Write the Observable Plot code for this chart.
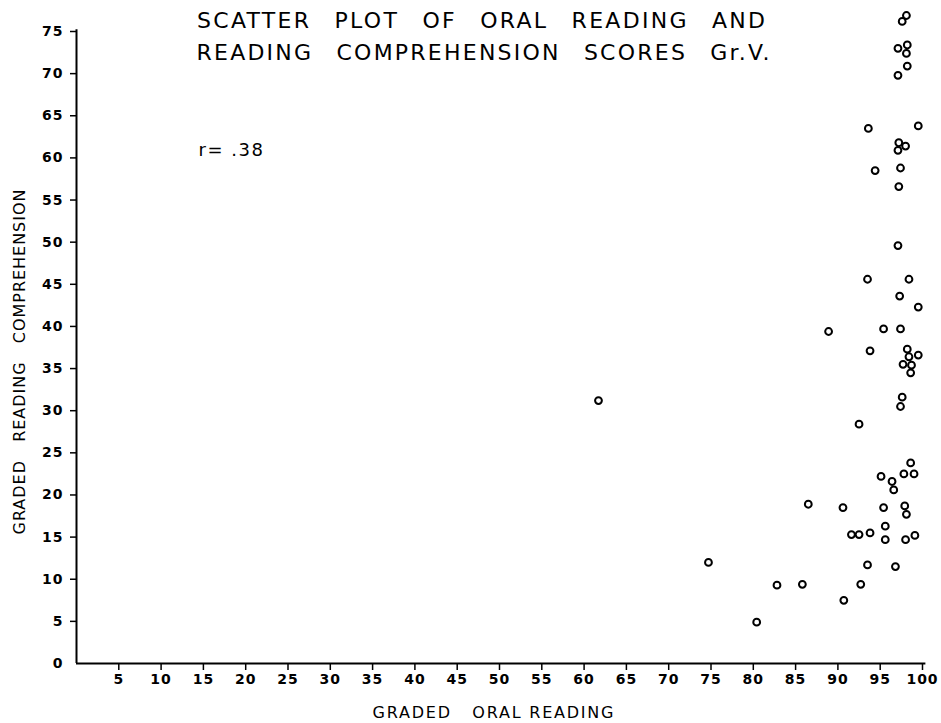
<!DOCTYPE html>
<html>
<head>
<meta charset="utf-8">
<script src="https://cdn.jsdelivr.net/npm/d3@7"></script>
<script src="https://cdn.jsdelivr.net/npm/@observablehq/plot@0.6"></script>
<style>
  html, body { margin: 0; padding: 0; background: #fff; }
  #chart { width: 941px; height: 723px; }
</style>
</head>
<body>
<div id="chart"></div>
<script>
// Graded oral reading (x) and graded reading comprehension (y)
const oralReading = [98.1, 97.6, 97.1, 98.2, 98.1, 98.2, 97.1, 93.6, 99.5, 97.2,
  98.0, 97.1, 94.4, 97.4, 97.2, 97.1, 93.5, 98.4, 97.3, 99.5,
  95.4, 97.4, 93.8, 98.2, 98.4, 99.5, 97.7, 98.7, 98.6, 97.6,
  97.4, 92.5, 98.6, 97.8, 99.0, 95.1, 96.4, 96.6, 90.6, 95.4,
  97.9, 98.1, 95.6, 91.6, 92.5, 93.8, 95.6, 98.0, 99.1, 93.5,
  96.8, 92.7, 90.7, 86.5, 74.7, 82.8, 85.8, 61.7, 80.4, 88.9];
const comprehension = [76.9, 76.2, 73.0, 73.4, 72.4, 70.9, 69.8, 63.5, 63.8, 61.8,
  61.4, 60.9, 58.5, 58.8, 56.6, 49.6, 45.6, 45.6, 43.6, 42.3,
  39.7, 39.7, 37.1, 37.3, 36.4, 36.6, 35.5, 35.4, 34.5, 31.6,
  30.5, 28.4, 23.8, 22.5, 22.5, 22.2, 21.6, 20.6, 18.5, 18.5,
  18.7, 17.7, 16.3, 15.3, 15.3, 15.5, 14.7, 14.7, 15.2, 11.7,
  11.5, 9.4, 7.5, 18.9, 12.0, 9.3, 9.4, 31.2, 4.9, 39.4];
const xTicks = [5, 10, 15, 20, 25, 30, 35, 40, 45, 50, 55, 60, 65, 70, 75, 80, 85, 90, 95, 100];
const yTicks = [5, 10, 15, 20, 25, 30, 35, 40, 45, 50, 55, 60, 65, 70, 75];
const yZeroTick = [0];
const titleLines = ["SCATTER PLOT OF ORAL READING AND", "READING COMPREHENSION SCORES Gr.V."];
const xLabel = "GRADED   ORAL READING";
const yLabel = "GRADED   READING   COMPREHENSION";
const annotation = ["r= .38"];

const points = oralReading.map((x, i) => ({x, y: comprehension[i]}));

const tickFont = {fontSize: 14, fontWeight: "bold"};

const svg = Plot.plot({
  width: 941,
  height: 723,
  marginLeft: 76,
  marginRight: 19,
  marginTop: 31,
  marginBottom: 60,
  x: {domain: [0, 100]},
  y: {domain: [0, 75]},
  style: {fontFamily: "DejaVu Sans", fontSize: "14px", background: "white", color: "black", overflow: "visible"},
  marks: [
    Plot.ruleX([0], {y1: 0, y2: 75.2, stroke: "black", strokeWidth: 2}),
    Plot.ruleY([0], {x1: 0, x2: 100.4, stroke: "black", strokeWidth: 2}),
    Plot.axisX({ticks: xTicks, tickSize: 7, tickPadding: 4, label: null, tickFormat: d => String(d), strokeWidth: 1.5, ...tickFont}),
    Plot.axisY({ticks: yTicks, tickSize: 6, tickPadding: 7, label: null, tickFormat: d => String(d), strokeWidth: 1.5, ...tickFont}),
    Plot.axisY({ticks: yZeroTick, tickSize: 0, tickPadding: 13, label: null, tickFormat: d => String(d), ...tickFont}),
    Plot.dot(points, {x: "x", y: "y", r: 3.4, stroke: "black", strokeWidth: 2, fill: "none"}),
    Plot.text(annotation, {frameAnchor: "top-left", dx: 122, dy: 119, lineAnchor: "middle", textAnchor: "start", fontSize: 18})
  ]
});

const s = d3.select(svg);
s.selectAll('g[aria-label$="tick label"] text')
  .attr("font-weight", "bold").attr("font-size", 14).style("letter-spacing", "1px");
s.selectAll('g[aria-label="text"] text').style("letter-spacing", "1.5px");

// Title
s.append("text")
  .attr("x", 481).attr("y", 28)
  .attr("text-anchor", "middle")
  .attr("font-family", "DejaVu Sans").attr("font-size", 22)
  .attr("textLength", 568).attr("lengthAdjust", "spacing")
  .style("word-spacing", "14px")
  .text(titleLines[0]);
s.append("text")
  .attr("x", 483).attr("y", 60)
  .attr("text-anchor", "middle")
  .attr("font-family", "DejaVu Sans").attr("font-size", 22)
  .attr("textLength", 573).attr("lengthAdjust", "spacing")
  .style("word-spacing", "14px")
  .text(titleLines[1]);

// Axis labels
s.append("text")
  .attr("x", 493).attr("y", 718)
  .attr("text-anchor", "middle")
  .attr("font-family", "DejaVu Sans").attr("font-size", 16)
  .attr("textLength", 241).attr("lengthAdjust", "spacing")
  .style("white-space", "pre")
  .text(xLabel);
s.append("text")
  .attr("transform", "translate(25,362) rotate(-90)")
  .attr("text-anchor", "middle")
  .attr("font-family", "DejaVu Sans").attr("font-size", 16)
  .attr("textLength", 345).attr("lengthAdjust", "spacing")
  .style("white-space", "pre")
  .text(yLabel);

document.getElementById("chart").appendChild(svg);
</script>
</body>
</html>
